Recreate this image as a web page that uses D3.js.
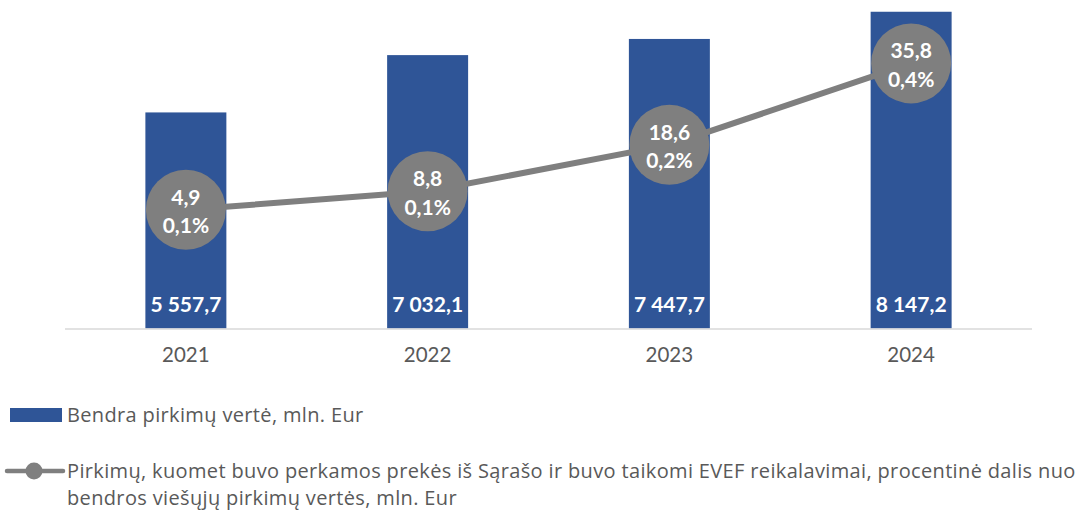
<!DOCTYPE html>
<html>
<head>
<meta charset="utf-8">
<script src="https://cdn.jsdelivr.net/npm/d3@7"></script>
<style>
  body { margin: 0; background: #fff; }
  svg { display: block; font-family: Lato, 'Open Sans', sans-serif; }
</style>
</head>
<body>
<div id="graf"></div>
<script>
const metai = ['2021', '2022', '2023', '2024']
const verte = [5557.7, 7032.1, 7447.7, 8147.2]
const evef = [4.9, 8.8, 18.6, 35.8]
const dalis = ['0,1%', '0,1%', '0,2%', '0,4%']
const legenda1 = 'Bendra pirkimų vertė, mln. Eur'
const legenda2 = [
  'Pirkimų, kuomet buvo perkamos prekės iš Sąrašo ir buvo taikomi EVEF reikalavimai, procentinė dalis nuo',
  'bendros viešųjų pirkimų vertės, mln. Eur',
]

const anchoTotal = 1087
const altoTotal = 511
const melyna = '#2f5597'
const pilka = '#7f7f7f'

const svg = d3
  .select('#graf')
  .append('svg')
  .attr('width', anchoTotal)
  .attr('height', altoTotal)

const fmt = (v) => d3.format(',.1f')(v).replace(',', ' ').replace('.', ',')

const x = d3
  .scaleBand()
  .domain(metai)
  .range([65, 1032])
  .paddingInner(0.665)
  .paddingOuter(0.3325)
const y = d3.scaleLinear().domain([0, 9000]).range([328.5, -21.4])
const y2 = d3.scaleLinear().domain([0, 50]).range([233, -3.9])

// stulpeliai
svg
  .selectAll('rect.bar')
  .data(verte)
  .join('rect')
  .attr('class', 'bar')
  .attr('x', (d, i) => x(metai[i]))
  .attr('y', (d) => y(d))
  .attr('width', x.bandwidth())
  .attr('height', (d) => y(0) - y(d))
  .attr('fill', melyna)

// ašis
svg
  .append('line')
  .attr('x1', 65)
  .attr('x2', 1032)
  .attr('y1', y(0) + 0.5)
  .attr('y2', y(0) + 0.5)
  .attr('stroke', '#d9d9d9')
  .attr('stroke-width', 1.5)

const xAxis = svg
  .append('g')
  .attr('transform', `translate(0, ${y(0)})`)
  .call(d3.axisBottom(x).tickSize(0).tickPadding(19))
xAxis.select('.domain').remove()
xAxis
  .selectAll('text')
  .attr('font-size', 20.5)
  .attr('fill', '#595959')
  .attr('font-family', 'Lato, sans-serif')

// reikšmės stulpeliuose
svg
  .selectAll('text.val')
  .data(verte)
  .join('text')
  .attr('class', 'val')
  .attr('x', (d, i) => x(metai[i]) + x.bandwidth() / 2)
  .attr('y', y(0) - 16.5)
  .attr('text-anchor', 'middle')
  .attr('font-size', 21)
  .attr('font-weight', 'bold')
  .attr('fill', '#fff')
  .text((d) => fmt(d))

// linija
const cx = (i) => x(metai[i]) + x.bandwidth() / 2
svg
  .append('path')
  .datum(evef)
  .attr('fill', 'none')
  .attr('stroke', pilka)
  .attr('stroke-width', 6)
  .attr('d', d3.line().x((d, i) => cx(i)).y((d) => y2(d)))

svg
  .selectAll('circle.pt')
  .data(evef)
  .join('circle')
  .attr('class', 'pt')
  .attr('cx', (d, i) => cx(i))
  .attr('cy', (d) => y2(d))
  .attr('r', 40)
  .attr('fill', pilka)

const lbl = svg
  .selectAll('text.pt')
  .data(evef)
  .join('text')
  .attr('class', 'pt')
  .attr('text-anchor', 'middle')
  .attr('font-size', 21)
  .attr('font-weight', 'bold')
  .attr('fill', '#fff')
lbl
  .append('tspan')
  .attr('x', (d, i) => cx(i))
  .attr('y', (d) => y2(d) - 5)
  .text((d) => d3.format('.1f')(d).replace('.', ','))
lbl
  .append('tspan')
  .attr('x', (d, i) => cx(i))
  .attr('y', (d) => y2(d) + 23.5)
  .text((d, i) => dalis[i])

// legenda
const leg = svg
  .append('g')
  .attr('fill', '#595959')
  .attr('font-size', 20)
  .attr('letter-spacing', 0.35)
  .attr('font-family', "'Open Sans', sans-serif")
leg
  .append('rect')
  .attr('x', 10)
  .attr('y', 408)
  .attr('width', 52)
  .attr('height', 14)
  .attr('fill', melyna)
leg.append('text').attr('x', 67).attr('y', 422).text(legenda1)

leg
  .append('line')
  .attr('x1', 7)
  .attr('x2', 63)
  .attr('y1', 471)
  .attr('y2', 471)
  .attr('stroke', pilka)
  .attr('stroke-width', 4.5)
  .attr('stroke-linecap', 'round')
leg.append('circle').attr('cx', 34).attr('cy', 471).attr('r', 8.5).attr('fill', pilka)
leg
  .append('text')
  .selectAll('tspan')
  .data(legenda2)
  .join('tspan')
  .attr('x', 67)
  .attr('y', (d, i) => 477.5 + i * 27)
  .text((d) => d)
</script>
</body>
</html>
